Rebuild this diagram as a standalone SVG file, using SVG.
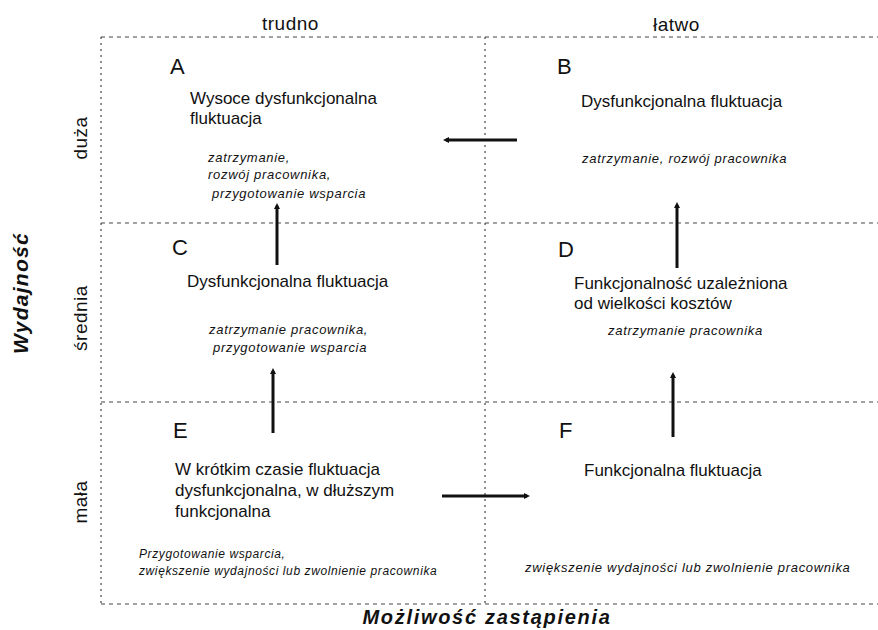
<svg xmlns="http://www.w3.org/2000/svg" width="878" height="630" viewBox="0 0 878 630">
<style>
.grid{stroke:#444;stroke-width:1.2;stroke-dasharray:4 4;fill:none}
.vgrid{stroke:#444;stroke-width:1.2;stroke-dasharray:2 4;fill:none}
.conn{stroke:#111;stroke-width:3;fill:none;marker-end:url(#ah)}
text{font-family:"Liberation Sans",Arial,sans-serif;fill:#111}
.axis{font-size:19px;letter-spacing:0.5px}
.title{font-size:20px;font-weight:bold;font-style:italic;letter-spacing:1.7px}
.letter{font-size:22px}
.main{font-size:17px}
.note{font-size:13px;font-style:italic;letter-spacing:0.7px}
.noteS{font-size:12px;font-style:italic;letter-spacing:0.6px}
</style>
<defs>
<marker id="ah" markerUnits="userSpaceOnUse" markerWidth="8" markerHeight="7" refX="3" refY="3" orient="auto">
<path d="M0,0 L6,3 L0,6 z" fill="#111"/>
</marker>
</defs>
<rect width="878" height="630" fill="#fff"/>
<g id="grid">
<line class="grid" x1="101" y1="37" x2="878" y2="37"/>
<line class="grid" x1="101" y1="223" x2="878" y2="223"/>
<line class="grid" x1="101" y1="402" x2="878" y2="402"/>
<line class="grid" x1="101" y1="604" x2="878" y2="604"/>
<line class="vgrid" x1="101" y1="37" x2="101" y2="604"/>
<line class="vgrid" x1="485" y1="37" x2="485" y2="604"/>
</g>
<g id="axes">
<text class="axis" x="262" y="30">trudno</text>
<text class="axis" x="653" y="31">łatwo</text>
<text class="title" x="487" y="624" text-anchor="middle">Możliwość zastąpienia</text>
<text class="title" transform="translate(28,293) rotate(-90)" text-anchor="middle" style="font-size:21px;letter-spacing:1.3px">Wydajność</text>
<text class="axis" transform="translate(87,138) rotate(-90)" text-anchor="middle">duża</text>
<text class="axis" transform="translate(87,318) rotate(-90)" text-anchor="middle">średnia</text>
<text class="axis" transform="translate(87,502) rotate(-90)" text-anchor="middle">mała</text>
</g>
<g id="A">
<text class="letter" x="170" y="74">A</text>
<text class="main" x="190" y="104">Wysoce dysfunkcjonalna</text>
<text class="main" x="190" y="124">fluktuacja</text>
<text class="note" x="208" y="162">zatrzymanie,</text>
<text class="note" x="208" y="179">rozwój pracownika,</text>
<text class="note" x="212" y="198">przygotowanie wsparcia</text>
</g>
<g id="B">
<text class="letter" x="557" y="74">B</text>
<text class="main" x="581" y="107">Dysfunkcjonalna fluktuacja</text>
<text class="note" x="582" y="163">zatrzymanie, rozwój pracownika</text>
</g>
<g id="C">
<text class="letter" x="172" y="255">C</text>
<text class="main" x="187" y="287">Dysfunkcjonalna fluktuacja</text>
<text class="note" x="209" y="334">zatrzymanie pracownika,</text>
<text class="note" x="213" y="352">przygotowanie wsparcia</text>
</g>
<g id="D">
<text class="letter" x="558" y="257">D</text>
<text class="main" x="574" y="289">Funkcjonalność uzależniona</text>
<text class="main" x="574" y="309">od wielkości kosztów</text>
<text class="note" x="608" y="335">zatrzymanie pracownika</text>
</g>
<g id="E">
<text class="letter" x="173" y="438">E</text>
<text class="main" x="175" y="475">W krótkim czasie fluktuacja</text>
<text class="main" x="175" y="496">dysfunkcjonalna, w dłuższym</text>
<text class="main" x="175" y="517">funkcjonalna</text>
<text class="noteS" x="139" y="558">Przygotowanie wsparcia,</text>
<text class="noteS" x="139" y="575">zwiększenie wydajności lub zwolnienie pracownika</text>
</g>
<g id="F">
<text class="letter" x="559" y="438">F</text>
<text class="main" x="584" y="476">Funkcjonalna fluktuacja</text>
<text class="note" x="525" y="572">zwiększenie wydajności lub zwolnienie pracownika</text>
</g>
<g id="connectors">
<line class="conn" x1="517" y1="140" x2="446" y2="140"/>
<line class="conn" x1="277" y1="265" x2="277" y2="206"/>
<line class="conn" x1="273" y1="433" x2="273" y2="371"/>
<line class="conn" x1="677" y1="268" x2="677" y2="205"/>
<line class="conn" x1="673" y1="437" x2="673" y2="375"/>
<line class="conn" x1="442" y1="496" x2="527" y2="496"/>
</g>
</svg>
